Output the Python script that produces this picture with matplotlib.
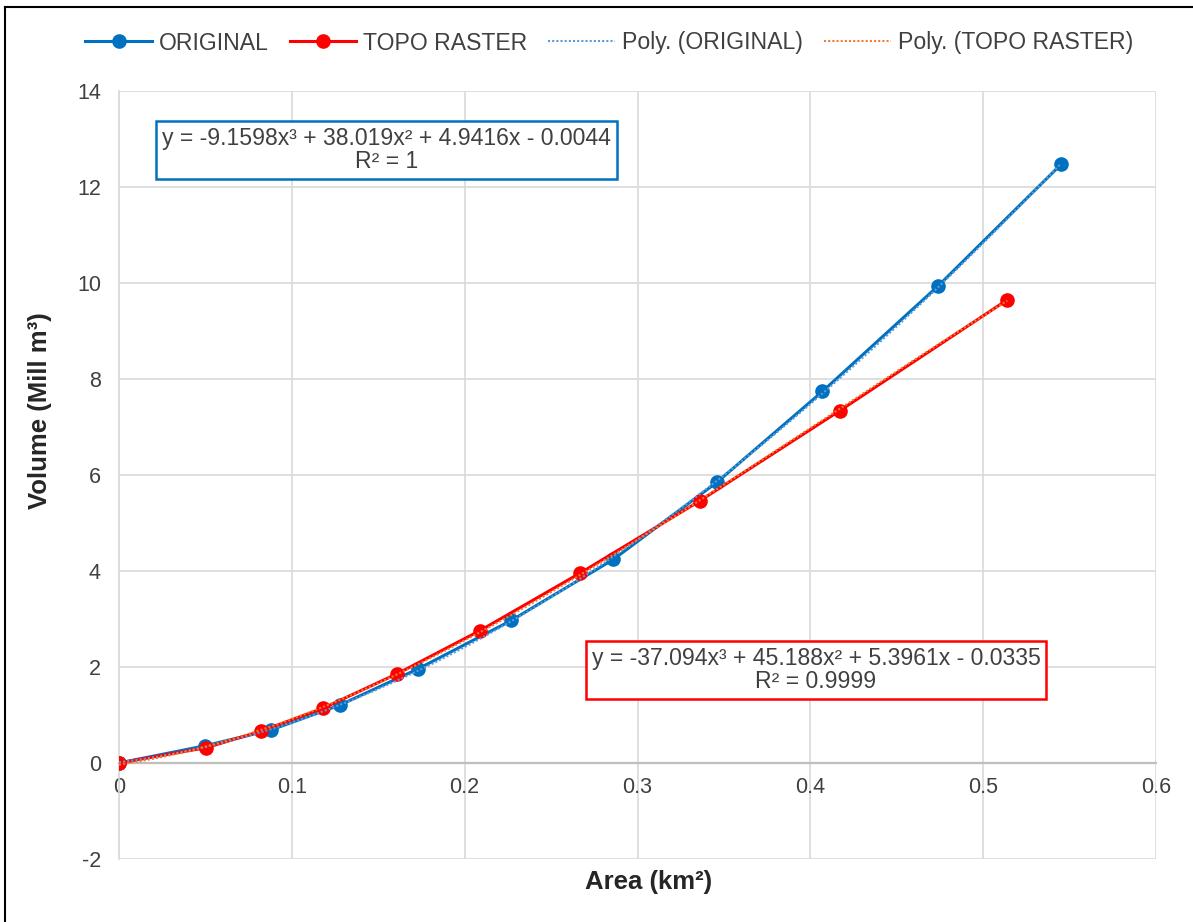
import numpy as np
import matplotlib
matplotlib.use('Agg')
import matplotlib.pyplot as plt
from matplotlib.lines import Line2D

plt.rcParams['font.family'] = ['Liberation Sans', 'DejaVu Sans']
plt.rcParams['axes.unicode_minus'] = False

# ---- data ----
orig_area = [0, 0.050, 0.088, 0.128, 0.173, 0.227, 0.286, 0.346, 0.407, 0.474, 0.545]
orig_vol = [0, 0.36, 0.69, 1.21, 1.96, 2.97, 4.24, 5.85, 7.74, 9.94, 12.47]
topo_area = [0, 0.0505, 0.082, 0.118, 0.161, 0.209, 0.267, 0.336, 0.417, 0.514]
topo_vol = [0, 0.32, 0.66, 1.14, 1.86, 2.76, 3.96, 5.46, 7.34, 9.65]

series_names = ['ORIGINAL', 'TOPO RASTER', 'Poly. (ORIGINAL)', 'Poly. (TOPO RASTER)']
eq_orig = 'y = -9.1598x\u00b3 + 38.019x\u00b2 + 4.9416x - 0.0044\nR\u00b2 = 1'
eq_topo = 'y = -37.094x\u00b3 + 45.188x\u00b2 + 5.3961x - 0.0335\nR\u00b2 = 0.9999'
x_ticks = [0, 0.1, 0.2, 0.3, 0.4, 0.5, 0.6]
x_ticklabels = ['0', '0.1', '0.2', '0.3', '0.4', '0.5', '0.6']
y_ticks = [-2, 0, 2, 4, 6, 8, 10, 12, 14]

BLUE = '#0070C0'
RED = '#FF0000'
LBLUE = '#5B9BD5'
ORANGE = '#ED7D31'
TXT = '#404040'
GRID = '#D9D9D9'

W, H = 1193, 922
fig = plt.figure(figsize=(W / 100, H / 100), dpi=100)
L, R, T, B = 119, 1156, 91, 859
ax = fig.add_axes([L / W, 1 - B / H, (R - L) / W, (B - T) / H])

ax.plot(orig_area, orig_vol, color=BLUE, lw=2.2, marker='o', ms=9.5, zorder=3)
ax.plot(topo_area, topo_vol, color=RED, lw=2.2, marker='o', ms=9.5, zorder=4)

for xs, ys, c in [(orig_area, orig_vol, LBLUE), (topo_area, topo_vol, ORANGE)]:
    coef = np.polyfit(xs, ys, 3)
    xx = np.linspace(min(xs), max(xs), 300)
    ax.plot(xx, np.polyval(coef, xx), color=c, lw=1.5, ls=(0, (1, 1)), zorder=5)

ax.set_xlim(0, 0.6)
ax.set_ylim(-2, 14)
ax.set_xticks(x_ticks)
ax.set_xticklabels(x_ticklabels)
ax.set_yticks(y_ticks)
ax.grid(True, color=GRID, lw=1.2, zorder=0)
ax.set_axisbelow(True)
for s in ['top', 'right']:
    ax.spines[s].set_visible(False)
ax.spines['bottom'].set_position(('data', 0))
ax.spines['bottom'].set_color('#BFBFBF')
ax.spines['bottom'].set_linewidth(1.6)
ax.spines['left'].set_color(GRID)
ax.spines['left'].set_linewidth(1.2)
ax.tick_params(axis='x', length=0, pad=10, labelsize=15.5, labelcolor=TXT)
ax.tick_params(axis='y', length=0, pad=13, labelsize=15.5, labelcolor=TXT)

fig.text(40 / W, 1 - 411 / H, 'Volume (Mill m\u00b3)', rotation=90, ha='center', va='center',
         fontsize=18.5, fontweight='bold', color='#262626')
fig.text(649 / W, 1 - 882 / H, 'Area (km\u00b2)', ha='center', va='center',
         fontsize=18.5, fontweight='bold', color='#262626')

fig.text(386.5 / W, 1 - 150 / H, eq_orig, ha='center', va='center', multialignment='center',
         fontsize=16.6, color=TXT, linespacing=1.05,
         bbox=dict(boxstyle='square,pad=0.25', fc='white', ec=BLUE, lw=1.8), zorder=10)
fig.text(816 / W, 1 - 670 / H, eq_topo, ha='center', va='center', multialignment='center',
         fontsize=16.6, color=TXT, linespacing=1.05,
         bbox=dict(boxstyle='square,pad=0.25', fc='white', ec=RED, lw=1.8), zorder=10)

handles = [
    Line2D([], [], color=BLUE, lw=2.2, marker='o', ms=9.5),
    Line2D([], [], color=RED, lw=2.2, marker='o', ms=9.5),
    Line2D([], [], color=LBLUE, lw=1.5, ls=(0, (1, 1))),
    Line2D([], [], color=ORANGE, lw=1.5, ls=(0, (1, 1))),
]
leg = fig.legend(handles, series_names, loc='center', bbox_to_anchor=(609 / W, 1 - 43 / H),
                 ncol=4, frameon=False, fontsize=16.6, handlelength=2.9, handletextpad=0.3,
                 columnspacing=0.9)
for t in leg.get_texts():
    t.set_color(TXT)

# screenshot border (top and left)
fig.add_artist(Line2D([5 / W, 1], [1 - 7 / H, 1 - 7 / H], transform=fig.transFigure, color='black', lw=1.5))
fig.add_artist(Line2D([5 / W, 5 / W], [0, 1 - 7 / H], transform=fig.transFigure, color='black', lw=1.5))

fig.savefig('out.png', dpi=100)
